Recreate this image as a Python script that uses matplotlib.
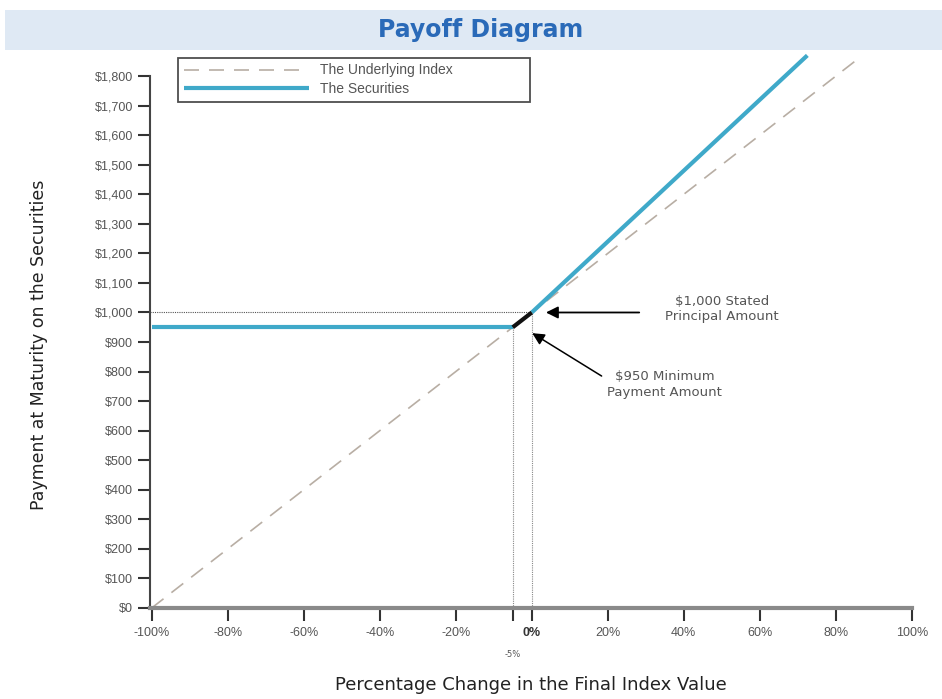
import matplotlib.pyplot as plt
from matplotlib.patches import Rectangle

# Data
index_x = [-100, 86]
index_y = [0, 1860]
floor_x = [-100, -5]
floor_y = [950, 950]
buffer_x = [-5, 0]
buffer_y = [950, 1000]
upside_x = [0, 72.5]
upside_y = [1000, 1870]
yticks = list(range(0, 1900, 100))
ylabels = ["$0"] + ["$%d" % v for v in range(100, 1000, 100)] + ["$1,%03d" % (v - 1000) for v in range(1000, 1900, 100)]
xticks = list(range(-100, 101, 20))
xlabels = ["%d%%" % v for v in xticks]

fig = plt.figure(figsize=(9.42, 6.99), dpi=100)
fig.patches.append(Rectangle((0.0053, 0.9285), 0.995, 0.057, transform=fig.transFigure,
                             facecolor="#dfe9f4", edgecolor="none", zorder=0))
fig.text(0.51, 0.957, "Payoff Diagram", ha="center", va="center", fontsize=17,
         fontweight="bold", color="#2a6ab8", family="DejaVu Sans")

ax = fig.add_axes([0.159, 0.1302, 0.809, 0.799])
ax.set_xlim(-100.5, 100)
ax.set_ylim(0, 1890)

ax.plot(index_x, index_y, color="#b8aea4", lw=1.2, dashes=(9, 6), label="The Underlying Index", zorder=2)
ax.plot(floor_x, floor_y, color="#3fa9c9", lw=3, zorder=3, label="The Securities", solid_capstyle="butt")
ax.plot(upside_x, upside_y, color="#3fa9c9", lw=3, zorder=3, solid_capstyle="butt")
ax.plot(buffer_x, buffer_y, color="#111111", lw=3, zorder=4, solid_capstyle="butt")

# reference dotted lines
ax.plot([-100.5, 0], [1000, 1000], color="#555555", lw=0.8, ls=(0, (1, 1)), zorder=1)
ax.plot([-5, -5], [0, 950], color="#888888", lw=0.8, ls=(0, (1, 1)), zorder=1)
ax.plot([0, 0], [0, 1000], color="#888888", lw=0.8, ls=(0, (1, 1)), zorder=1)

for s in ["top", "right"]:
    ax.spines[s].set_visible(False)
ax.spines["left"].set_bounds(0, 1800)
ax.spines["bottom"].set_bounds(-100.5, 100)
ax.spines["left"].set_color("#444444")
ax.spines["left"].set_linewidth(1.5)
ax.spines["bottom"].set_color("#8a8a8a")
ax.spines["bottom"].set_linewidth(3)

ax.set_yticks(yticks)
ax.set_yticklabels(ylabels, fontsize=9, color="#555555", family="Liberation Sans")
ax.set_xticks(xticks + [-5])
xl = ax.set_xticklabels(xlabels + [""], fontsize=9, color="#555555", family="Liberation Sans")
for t in xl:
    if t.get_text() == "0%":
        t.set_fontweight("bold")
        t.set_color("#333333")
ax.tick_params(axis="y", length=9, width=1.5, color="#333333", pad=3)
ax.tick_params(axis="x", length=9, width=1.5, color="#333333", pad=5)
ax.text(-5, -0.075, "-5%", transform=ax.get_xaxis_transform(), ha="center", va="top",
        fontsize=6, color="#555555")

ax.set_ylabel("Payment at Maturity on the Securities", fontsize=12.5, color="#222222")
ax.yaxis.set_label_coords(-0.134, 0.471)
ax.set_xlabel("Percentage Change in the Final Index Value", fontsize=13, color="#222222", labelpad=26)

leg = ax.legend(loc="upper left", bbox_to_anchor=(0.037, 0.906, 0.462, 0.079), mode="expand",
                borderaxespad=0, frameon=True, fancybox=False, edgecolor="#222222", handlelength=9,
                borderpad=0.4, labelspacing=0.35, handletextpad=0.8,
                prop={"family": "Liberation Sans", "size": 10})
leg.get_frame().set_linewidth(1.3)
for t in leg.get_texts():
    t.set_color("#555555")

ax.annotate("", xy=(3, 1000), xytext=(29, 1000),
            arrowprops=dict(arrowstyle="-|>", color="black", lw=1.3, mutation_scale=18))
ax.text(50, 1012, "$1,000 Stated\nPrincipal Amount", ha="center", va="center", fontsize=9.5,
        color="#555555", linespacing=1.25)
ax.annotate("", xy=(-0.5, 935), xytext=(19, 780),
            arrowprops=dict(arrowstyle="-|>", color="black", lw=1.1, mutation_scale=18))
ax.text(35, 757, "$950 Minimum\nPayment Amount", ha="center", va="center", fontsize=9.5,
        color="#555555", linespacing=1.25)

fig.savefig("out.png", dpi=100)
